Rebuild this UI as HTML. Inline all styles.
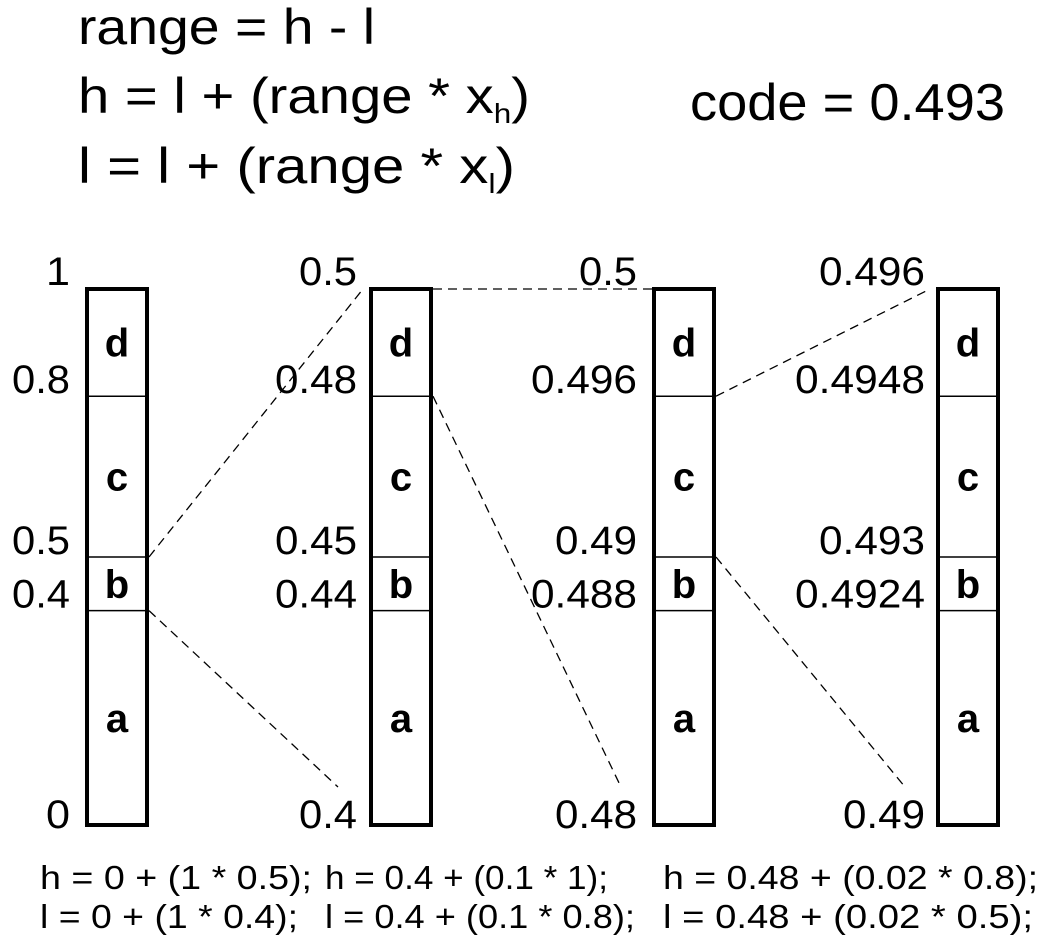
<!DOCTYPE html>
<html><head><meta charset="utf-8"><style>
html,body{margin:0;padding:0;background:#fff}
svg{display:block}
text{font-family:"Liberation Sans","DejaVu Sans",sans-serif;fill:#000}
</style></head><body>
<svg id="chart" width="1055" height="940" viewBox="0 0 1055 940">
  <g font-size="50">
    <text x="78" y="44" textLength="297" lengthAdjust="spacingAndGlyphs">range = h - l</text>
    <text x="78" y="113" textLength="452" lengthAdjust="spacingAndGlyphs">h = l + (range * x<tspan font-size="28" dy="10">h</tspan><tspan dy="-10">)</tspan></text>
    <text x="78" y="183" textLength="437" lengthAdjust="spacingAndGlyphs">l = l + (range * x<tspan font-size="28" dy="10">l</tspan><tspan dy="-10">)</tspan></text>
  </g>
  <text x="690" y="120" font-size="52" textLength="315" lengthAdjust="spacingAndGlyphs">code = 0.493</text>
  <g id="bars"></g>
  <g id="links"></g>
  <g font-size="33">
    <text x="40" y="889" textLength="272" lengthAdjust="spacingAndGlyphs">h = 0 + (1 * 0.5);</text>
    <text x="325" y="889" textLength="283" lengthAdjust="spacingAndGlyphs">h = 0.4 + (0.1 * 1);</text>
    <text x="663" y="889" textLength="375" lengthAdjust="spacingAndGlyphs">h = 0.48 + (0.02 * 0.8);</text>
    <text x="40" y="928" textLength="258" lengthAdjust="spacingAndGlyphs">l = 0 + (1 * 0.4);</text>
    <text x="325" y="928" textLength="310" lengthAdjust="spacingAndGlyphs">l = 0.4 + (0.1 * 0.8);</text>
    <text x="663" y="928" textLength="370" lengthAdjust="spacingAndGlyphs">l = 0.48 + (0.02 * 0.5);</text>
  </g>
</svg>
<script>
// Data
const symbols = ['a','b','c','d'];
const cumFractions = [0, 0.4, 0.5, 0.8, 1];
const barLabels = [
  ['0','0.4','0.5','0.8','1'],
  ['0.4','0.44','0.45','0.48','0.5'],
  ['0.48','0.488','0.49','0.496','0.5'],
  ['0.49','0.4924','0.493','0.4948','0.496']
];
// links: [fromBar, fromBoundaryIndex, toBar, toBoundaryIndex]
const links = [[0,2,1,4],[0,1,1,0],[1,4,2,4],[1,3,2,0],[2,3,3,4],[2,2,3,0]];

const NS='http://www.w3.org/2000/svg';
const yTop=289, yBot=825, barW=60;
const barX=[87,371,654,938];
const labelRight=[70,357,637,925];
const yScale=f=>yBot-(yBot-yTop)*f;
function mk(tag,attrs,parent){const e=document.createElementNS(NS,tag);for(const k in attrs)e.setAttribute(k,attrs[k]);parent.appendChild(e);return e;}

const gb=document.getElementById('bars');
barLabels.forEach((labs,bi)=>{
  const g=mk('g',{},gb);
  
  
  const x=barX[bi];
  const r=mk('rect',{x:x,y:yTop,width:barW,height:yBot-yTop,fill:'none',stroke:'#000','stroke-width':4},g);
  
  
  for(let i=1;i<cumFractions.length-1;i++){
    const y=yScale(cumFractions[i]);
    const l=mk('line',{x1:x,x2:x+barW,y1:y,y2:y,stroke:'#000','stroke-width':1.5},g);
    
    
  }
  symbols.forEach((s,i)=>{
    const y=(yScale(cumFractions[i])+yScale(cumFractions[i+1]))/2;
    const t=mk('text',{x:x+barW/2,y:y+14,'font-size':40,'font-weight':'bold','text-anchor':'middle'},g);
    t.textContent=s;
    
    
  });
  labs.forEach((lab,i)=>{
    let y=yScale(cumFractions[i])-3;
    if(i===0) y=yBot+3;
    else if(i===labs.length-1) y=yTop-4;
    const digits=lab.replace(/\./g,'').length, dots=lab.length-digits;
    const w=digits*24+dots*10;
    const t=mk('text',{x:labelRight[bi],y:y,'font-size':40,'text-anchor':'end',textLength:w,lengthAdjust:'spacingAndGlyphs'},g);
    t.textContent=lab;
    
    
  });
});

const gl=document.getElementById('links');
links.forEach(([fb,fi,tb,ti])=>{
  const x1=barX[fb]+barW+2, y1=yScale(cumFractions[fi]);
  let x2=barX[tb]-2, y2=yScale(cumFractions[ti]);
  if(ti===0){x2=barX[tb]-33; y2=yBot-38;}
  else if(ti===cumFractions.length-1 && fi!==ti){x2=barX[tb]-8; y2=yTop;}
  if(fi===ti){x2=barX[tb];}
  const l=mk('line',{x1:x1,y1:y1,x2:x2,y2:y2,stroke:'#000','stroke-width':1.3,'stroke-dasharray':'9,6'},gl);
  
  
});
</script>
</body></html>
